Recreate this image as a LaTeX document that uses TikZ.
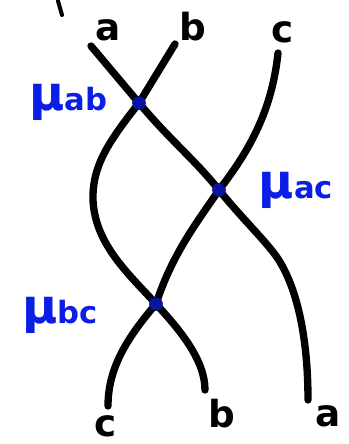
\documentclass[tikz,border=0pt]{standalone}
\usepackage{fontspec}
\newfontfamily\hand{DejaVu Sans}[BoldFont={DejaVu Sans Bold}]
\definecolor{inkblue}{RGB}{10,30,230}
\tikzset{
  strand/.style={line width=5.5pt, black, line cap=round},
  crossdot/.style={circle, fill=inkblue!70!black, inner sep=0pt, minimum size=10pt},
  endlabel/.style={font=\hand\bfseries\fontsize{28}{28}\selectfont, inner sep=0pt},
  mulabel/.style={font=\hand\bfseries, text=inkblue, inner sep=0pt},
}
\newcommand{\mulab}[1]{{\fontsize{36}{36}\selectfont μ}{\fontsize{23}{23}\selectfont #1}}
\begin{document}
\begin{tikzpicture}[x=0.75pt,y=-0.75pt]
\useasboundingbox (0,0) rectangle (349,444);
% crossing points
\node[crossdot] (mab) at (139,103) {};
\node[crossdot] (mac) at (219,190) {};
\node[crossdot] (mbc) at (156,304) {};
% strand end points
\coordinate (a1) at (91,46);
\coordinate (b1) at (175,44);
\coordinate (c1) at (278,53);
\coordinate (a2) at (308,400);
\coordinate (b2) at (205,390);
\coordinate (c2) at (108,406);
\coordinate (s1) at (58,1);
\coordinate (s2) at (62,15);
% strands
\draw[strand] (a1) -- (mab.center) .. controls (170,140) and (195,160) .. (mac.center)
   .. controls (245,222) and (270,245) .. (280,262) .. controls (298,292) and (308,340) .. (a2);
\draw[strand] (b1) -- (mab.center) .. controls (110,140) and (92,165) .. (93,200)
   .. controls (95,245) and (130,275) .. (mbc.center) .. controls (180,330) and (205,360) .. (b2);
\draw[strand] (c1) .. controls (272,110) and (250,150) .. (mac.center)
   .. controls (195,225) and (172,255) .. (mbc.center) .. controls (125,340) and (108,370) .. (c2);
\draw[line width=3pt, line cap=round] (s1) -- (s2);
\fill[inkblue!70!black] (mab) circle (5pt) (mac) circle (5pt) (mbc) circle (5pt);
% labels
\node[endlabel] (la1) at (108,30) {a};
\node[endlabel] (lb1) at (193,27) {b};
\node[endlabel] (lc1) at (283,32) {c};
\node[endlabel] (lc2) at (106,426) {c};
\node[endlabel] (lb2) at (222,414) {b};
\node[endlabel] (la2) at (328,416) {a};
\node[mulabel] (lmab) at (68,102) {\mulab{ab}};
\node[mulabel] (lmac) at (296,190) {\mulab{ac}};
\node[mulabel] (lmbc) at (60,315) {\mulab{bc}};
\end{tikzpicture}
\end{document}
